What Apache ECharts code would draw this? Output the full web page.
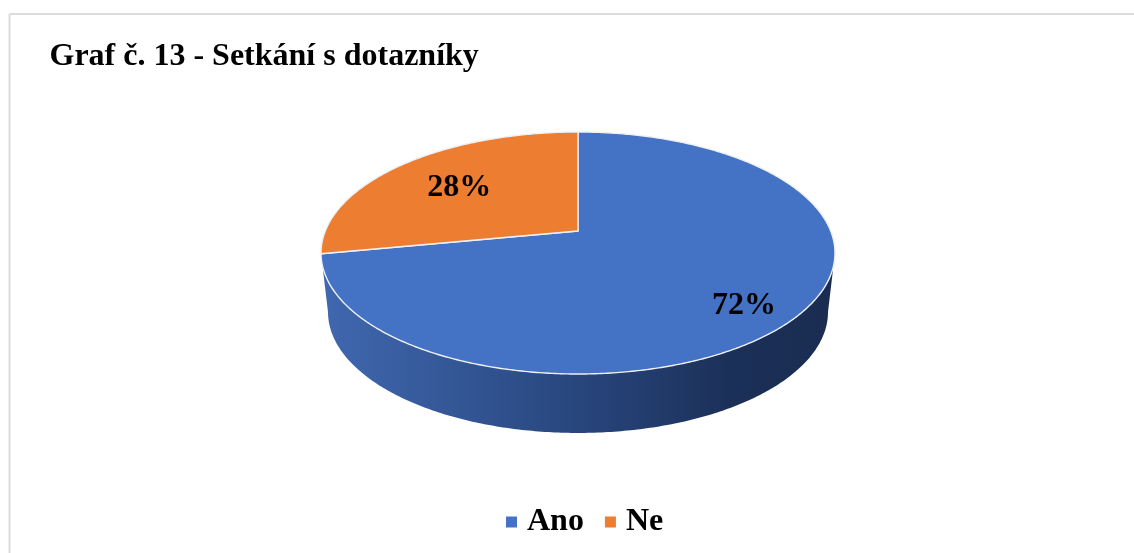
<!DOCTYPE html>
<html>
<head>
<meta charset="utf-8">
<style>html,body{margin:0;padding:0;background:#fff}#c{width:1134px;height:553px}</style>
<script src="https://cdn.jsdelivr.net/npm/echarts@6/dist/echarts.min.js"></script>
</head>
<body>
<div id="c"></div>
<script>
const titleText = 'Graf č. 13 - Setkání s dotazníky';
const categories = ['Ano', 'Ne'];
const values = [72, 28];
const labels = ['72%', '28%'];
const colors = ['#4472c4', '#ed7d31'];

// perspective discs: top face and lower rim of the wall
const CX = 578;
const TOP = { y0: 231, a: 252.7, b: 117, k: 0.1818 };
const BOTTOM = { y0: 278.1, a: 240, b: 111.5, k: 0.28 };
const LABEL_R = [0.78, 0.65], LABEL_DY = [11, 2], LABEL_DX = [-1, -1];
const serif = '"Liberation Serif","Times New Roman",serif';

function project(theta, r, d) {
  const u = r * Math.sin(theta), v = r * Math.cos(theta), w = 1 + d.k * v;
  return [CX + d.a * u / w, d.y0 - d.b * v / w];
}
function rim(a0, a1, d) {
  const pts = [], n = Math.max(2, Math.ceil((a1 - a0) / 0.01));
  for (let i = 0; i <= n; i++) pts.push(project(a0 + (a1 - a0) * i / n, 1, d));
  return pts;
}
const total = values.reduce((a, b) => a + b, 0);
function sliceAngles(i) {
  const before = values.slice(0, i).reduce((a, b) => a + b, 0);
  return [before / total * 2 * Math.PI, (before + values[i]) / total * 2 * Math.PI];
}
function visibleRim(a0, a1, d) {
  const sil = Math.acos(-d.k);
  const s0 = Math.max(a0, sil), s1 = Math.min(a1, 2 * Math.PI - sil);
  return s1 > s0 ? rim(s0, s1, d) : [];
}
function sideFill(i) {
  if (i === 0) return { type: 'linear', x: 0, y: 0, x2: 1, y2: 0, colorStops: [
    { offset: 0, color: '#4068b0' }, { offset: 0.5, color: '#28467d' },
    { offset: 0.8, color: '#1b3058' }, { offset: 1, color: '#1a2c50' }] };
  return '#a85520';
}
function makeRender(i) {
  return function () {
    const [a0, a1] = sliceAngles(i);
    const children = [];
    const top = visibleRim(a0, a1, TOP), bot = visibleRim(a0, a1, BOTTOM).reverse();
    if (top.length && bot.length) {
      children.push({ type: 'polygon', shape: { points: top.concat(bot) }, style: { fill: sideFill(i), stroke: null } });
    }
    const pts = [[CX, TOP.y0]].concat(rim(a0, a1, TOP));
    children.push({ type: 'polygon', shape: { points: pts }, style: { fill: colors[i], stroke: '#eef0f4', lineWidth: 1.4, lineJoin: 'round' } });
    const p = project((a0 + a1) / 2, LABEL_R[i], TOP);
    children.push({ type: 'text', z2: 10, style: { text: labels[i], x: p[0] + LABEL_DX[i], y: p[1] + LABEL_DY[i], align: 'center', verticalAlign: 'middle', fill: '#000', font: 'bold 32px ' + serif } });
    return { type: 'group', children };
  };
}
const chart = echarts.init(document.getElementById('c'), null, { renderer: 'canvas' });
chart.setOption({
  animation: false,
  backgroundColor: '#fff',
  title: { text: titleText, left: 49.5, top: 41, padding: 0, textStyle: { fontFamily: serif, fontWeight: 'bold', fontSize: 32, color: '#000' } },
  legend: {
    data: categories, left: 506, top: 506, padding: 0, icon: 'rect', itemWidth: 11, itemHeight: 11, itemGap: 21,
    selectedMode: false,
    textStyle: { fontFamily: serif, fontWeight: 'bold', fontSize: 32, color: '#000', padding: [0, 0, 0, 5] }
  },
  graphic: [
    { type: 'line', silent: true, shape: { x1: 9.5, y1: 14, x2: 1134, y2: 14 }, style: { stroke: '#dcdcdc', lineWidth: 2 } },
    { type: 'line', silent: true, shape: { x1: 9.5, y1: 14, x2: 9.5, y2: 553 }, style: { stroke: '#dcdcdc', lineWidth: 2 } }
  ],
  series: categories.map((name, i) => ({
    type: 'custom', name, coordinateSystem: 'none', silent: true,
    itemStyle: { color: colors[i] },
    data: [values[i]],
    renderItem: makeRender(i)
  }))
});
</script>
</body>
</html>
